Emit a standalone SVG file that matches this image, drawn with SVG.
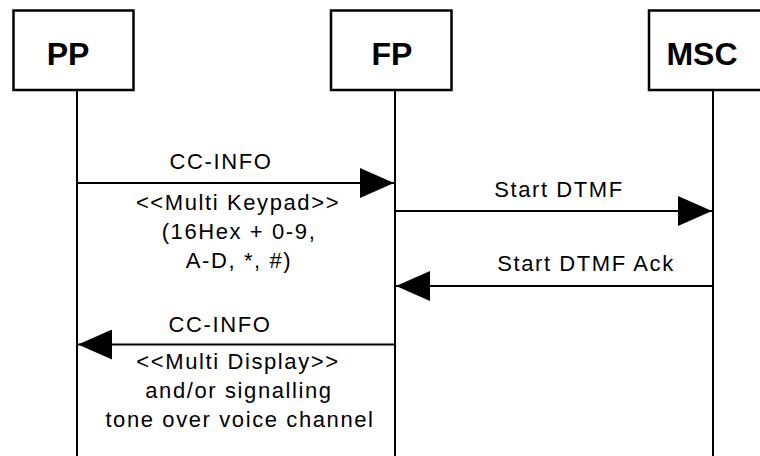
<svg xmlns="http://www.w3.org/2000/svg" width="760" height="456" viewBox="0 0 760 456">
<style>
.box{fill:#fff;stroke:#000;stroke-width:2.5}
.life{stroke:#000;stroke-width:2}
.msg{stroke:#000;stroke-width:2;fill:none;marker-end:url(#ah)}
.lbl{font-family:"Liberation Sans",Arial,sans-serif;font-weight:bold;font-size:32px;text-anchor:middle;fill:#000}
.t{font-family:"Liberation Sans",Arial,sans-serif;font-size:22px;letter-spacing:1.6px;text-anchor:middle;fill:#000}
</style>
<defs>
<marker id="ah" markerUnits="userSpaceOnUse" markerWidth="34" markerHeight="30" viewBox="0 0 34 30" refX="34" refY="15" orient="auto">
<path d="M0,0 L34,15 L0,30 z" fill="#000"/>
</marker>
</defs>
<g id="PP">
<rect class="box" x="13.5" y="10.5" width="120" height="79.5"/>
<text class="lbl" x="68" y="65">PP</text>
<line class="life" x1="77" y1="90" x2="77" y2="456"/>
</g>
<g id="FP">
<rect class="box" x="331" y="10.5" width="120.5" height="79.5"/>
<text class="lbl" x="392" y="65">FP</text>
<line class="life" x1="395" y1="90" x2="395" y2="456"/>
</g>
<g id="MSC">
<rect class="box" x="649" y="10.5" width="125" height="79.5"/>
<text class="lbl" x="702" y="65">MSC</text>
<line class="life" x1="713" y1="90" x2="713" y2="456"/>
</g>
<g id="connectors">
<line class="msg" x1="77" y1="183" x2="394" y2="183"/>
<line class="msg" x1="395" y1="211" x2="712" y2="211"/>
<line class="msg" x1="713" y1="286" x2="396" y2="286"/>
<line class="msg" x1="395" y1="344.5" x2="78" y2="344.5"/>
</g>
<g id="labels">
<text class="t" x="221" y="169">CC-INFO</text>
<text class="t" x="238" y="210">&lt;&lt;Multi Keypad&gt;&gt;</text>
<text class="t" x="239" y="239">(16Hex + 0-9,</text>
<text class="t" x="239" y="268">A-D, *, #)</text>
<text class="t" x="559" y="197">Start DTMF</text>
<text class="t" x="586" y="271">Start DTMF Ack</text>
<text class="t" x="220" y="331.5">CC-INFO</text>
<text class="t" x="238" y="369">&lt;&lt;Multi Display&gt;&gt;</text>
<text class="t" x="239" y="398">and/or signalling</text>
<text class="t" x="240" y="427">tone over voice channel</text>
</g>
</svg>
